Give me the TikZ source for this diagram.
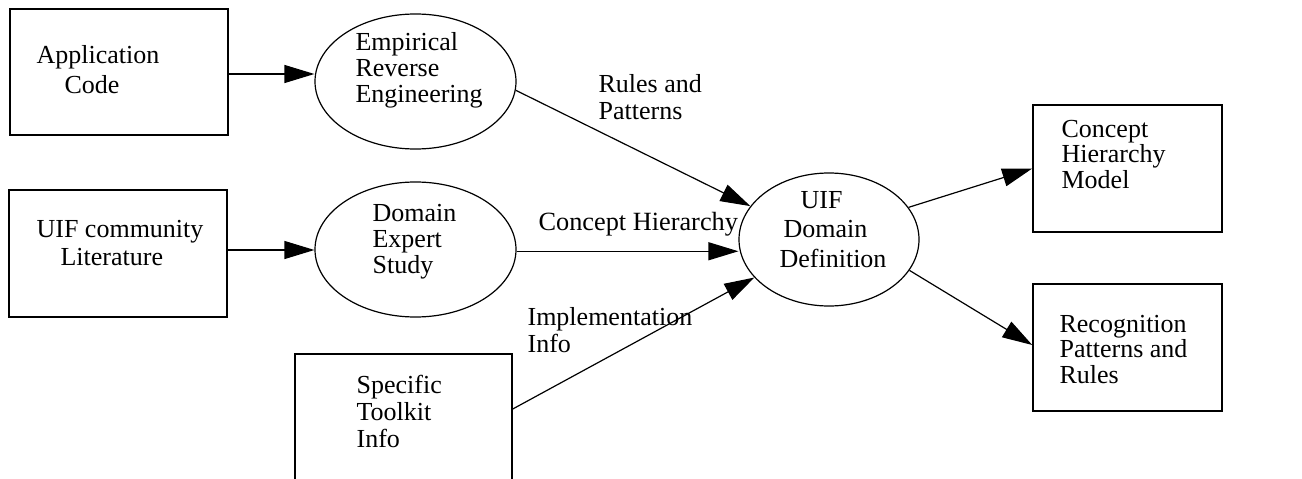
\documentclass[tikz,border=0pt]{standalone}
\usepackage{fontspec}
\setmainfont{Liberation Serif}
\usetikzlibrary{arrows.meta,shapes.geometric}

% multi-line text whose reference point is the first baseline
\newcommand\mlines[2]{{\fontsize{26}{#1}\selectfont\begin{tabular}[t]{@{}l@{}}#2\end{tabular}}}

\begin{document}
\begin{tikzpicture}[x=1pt,y=-1pt,
  line width=1.2pt,
  boxnode/.style={draw, rectangle, inner sep=0pt, line width=1.5pt},
  ovalnode/.style={draw, ellipse, inner sep=0pt},
  txt/.style={inner sep=0pt, anchor=base west, font=\fontsize{26.3}{28}\selectfont},
  arr/.style={-{Triangle[length=30pt,width=18pt]}}]

\useasboundingbox (0,0) rectangle (1302,479);
\clip (0,0) rectangle (1302,479);

% sources
\node[boxnode, minimum width=218pt, minimum height=126pt] (app) at (119,72) {};
\node[boxnode, minimum width=218pt, minimum height=127pt] (lit) at (118,253.5) {};
\node[boxnode, minimum width=217pt, minimum height=128pt] (spec) at (403.5,418) {};

% processes
\node[ovalnode, minimum width=201pt, minimum height=135pt] (emp) at (415.5,81.5) {};
\node[ovalnode, minimum width=201pt, minimum height=135pt] (dom) at (415.5,249.5) {};
\node[ovalnode, minimum width=180pt, minimum height=133pt] (uif) at (829,239.5) {};

% results
\node[boxnode, minimum width=189pt, minimum height=127pt] (chm) at (1127.5,168.5) {};
\node[boxnode, minimum width=189pt, minimum height=127pt] (rpr) at (1127.5,347.5) {};

% node texts
\node[txt] (appT) at (36,63) {\mlines{30}{Application\\\hspace*{28pt}Code}};
\node[txt] (litT) at (36,237) {\mlines{28}{UIF community\\\hspace*{24pt}Literature}};
\node[txt] (specT) at (356,393) {\mlines{27}{Specific\\Toolkit\\Info}};
\node[txt] (empT) at (355,50) {\mlines{26}{Empirical\\Reverse\\Engineering}};
\node[txt] (domT) at (372,221) {\mlines{26}{Domain\\Expert\\Study}};
\node[txt] (uifT) at (779,208) {\mlines{29.5}{\hspace*{21pt}UIF\\\hspace*{4pt}Domain\\Definition}};
\node[txt] (chmT) at (1061,137) {\mlines{25.5}{Concept\\Hierarchy\\Model}};
\node[txt] (rprT) at (1059,332) {\mlines{25.5}{Recognition\\Patterns and\\Rules}};

% connectors
\coordinate (appOut) at ([yshift=-2pt]app.east);
\draw[arr] (appOut) -- (appOut -| emp.west);
\coordinate (litOut) at ([yshift=3.5pt]lit.east);
\draw[arr] (litOut) -- (litOut -| dom.west);
\draw[arr] (emp.-5) -- (uif.157);
\coordinate (domOut) at (dom.-1);
\draw[arr] (domOut) -- (domOut -| uif.west);
\draw[arr] ([yshift=9pt]spec.east) -- (uif.207);
\draw[arr] (uif.22) -- (chm.west);
\draw[arr] (uif.-21) -- ([yshift=2.5pt]rpr.west);

% connector labels
\node[txt] (lblRules) at (598,92) {\mlines{28}{Rules and\\Patterns}};
\node[txt] (lblConcept) at (538,230) {Concept Hierarchy};
\node[txt] (lblImpl) at (527,325) {\mlines{27}{Implementation\\Info}};

\end{tikzpicture}
\end{document}
